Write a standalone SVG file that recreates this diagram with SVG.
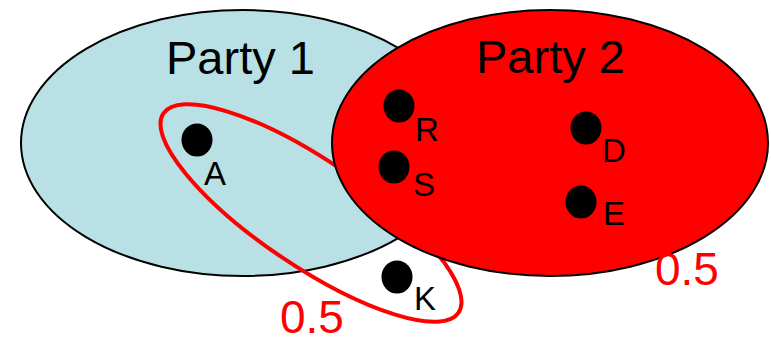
<svg xmlns="http://www.w3.org/2000/svg" width="771" height="337" viewBox="0 0 771 337">
<style>
.t{font-family:"Liberation Sans",Arial,sans-serif;fill:#000}
.big{font-size:47px}
.lbl{font-size:33px}
.w{font-family:"Liberation Sans",Arial,sans-serif;font-size:46px;fill:#ff0000}
.dot{fill:#000}
</style>
<rect width="771" height="337" fill="#fff"/>
<g id="party1">
<ellipse cx="243" cy="143" rx="222" ry="133" fill="#b9e0e4" stroke="#000" stroke-width="2"/>
<text class="t big" x="166" y="74">Party 1</text>
</g>
<g id="connectors">
<ellipse cx="311" cy="213" rx="178" ry="53" transform="rotate(34 311 213)" fill="none" stroke="#ff0000" stroke-width="4"/>
</g>
<g id="party2">
<ellipse cx="550" cy="143" rx="218" ry="133" fill="#ff0000" stroke="#000" stroke-width="2"/>
<text class="t big" x="476" y="73">Party 2</text>
</g>
<g id="A"><ellipse class="dot" cx="197" cy="140" rx="15.5" ry="16.5"/><text class="t lbl" x="204" y="185">A</text></g>
<g id="R"><ellipse class="dot" cx="399" cy="106" rx="15.5" ry="16.5"/><text class="t lbl" x="415" y="141">R</text></g>
<g id="S"><ellipse class="dot" cx="394" cy="167" rx="15.5" ry="16.5"/><text class="t lbl" x="413" y="196">S</text></g>
<g id="D"><ellipse class="dot" cx="586" cy="128" rx="15.5" ry="16.5"/><text class="t lbl" x="602" y="162">D</text></g>
<g id="E"><ellipse class="dot" cx="581" cy="202" rx="15.5" ry="16.5"/><text class="t lbl" x="603" y="225">E</text></g>
<g id="K"><ellipse class="dot" cx="397" cy="277" rx="15.5" ry="16.5"/><text class="t lbl" x="414" y="310">K</text></g>
<g id="weights">
<text class="w" x="655" y="285">0.5</text>
<text class="w" x="280" y="333">0.5</text>
</g>
</svg>
